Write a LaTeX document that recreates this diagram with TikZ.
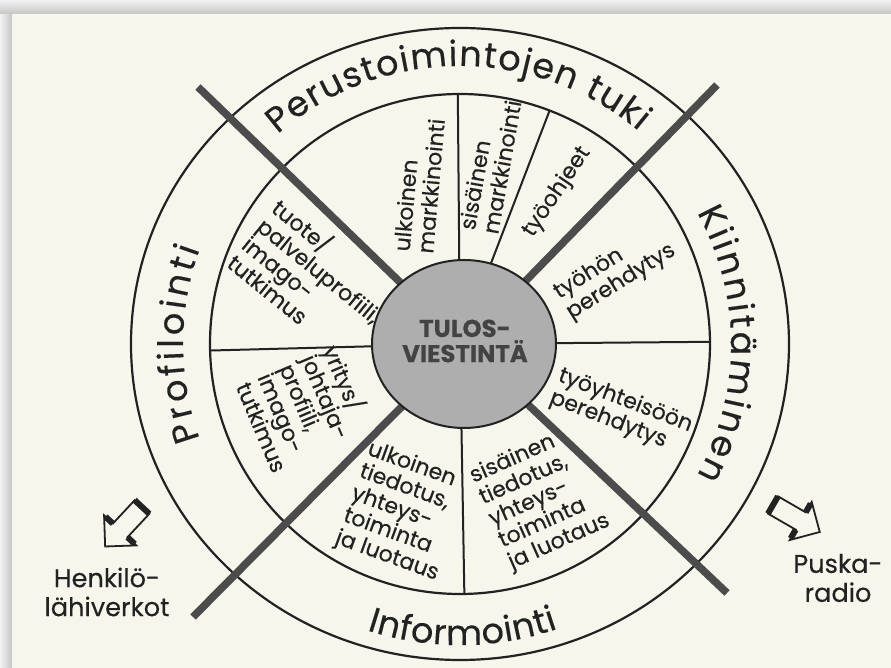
\documentclass[tikz,border=0pt]{standalone}
\usepackage{fontspec}
\setmainfont{Poppins}[FakeBold=0.35]
\usetikzlibrary{positioning,decorations.text}
\definecolor{paper}{RGB}{246,246,236}
\definecolor{ink}{RGB}{34,34,34}
\definecolor{hubgray}{RGB}{174,174,174}
\definecolor{spokegray}{RGB}{76,76,76}
\newcommand\ringfont{\fontsize{17.5}{20}\selectfont\color{ink}}
\tikzset{
  ring/.style={decorate,decoration={text along path,text align={fit to path},text={|\ringfont|#1}}},
  sector/.style={text=ink,align=left,inner sep=0pt,font=\fontsize{11}{11.8}\selectfont},
  hub/.style={text=ink!85,align=center,inner sep=0pt,font=\fontsize{12.2}{12.6}\selectfont\bfseries},
  side note/.style={text=ink,align=center,inner sep=0pt,font=\fontsize{12.8}{14.5}\selectfont},
  rim/.style={ink,line width=1.1pt},
  divider/.style={ink,line width=1pt},
  spoke/.style={spokegray,line width=3.8pt},
  hollow arrow/.pic={
    \draw[ink,line width=0.9pt,line join=miter,fill=paper]
      (0,-10) -- (32,-10) -- (32,-22) -- (54,0) -- (32,22) -- (32,10) -- (0,10) -- cycle;
    \draw[ink,line width=3pt] (0,-10) -- (0,10) (32,10) -- (32,20) (32,-10) -- (32,-20);
  }
}

\begin{document}
\begin{tikzpicture}[x=0.5pt,y=0.5pt]
  \useasboundingbox (-460,-324) rectangle (431,344);
  \fill[paper] (-460,-324) rectangle (431,344);
  \shade[left color=gray!10,right color=gray!45] (-460,-324) rectangle (-448,344);
  \shade[top color=gray!10,bottom color=gray!45] (-460,344) rectangle (431,330);

  \coordinate (O) at (0,0);
  \coordinate (hubc) at (4,0);
  \coordinate (ul) at (-262,257);
  \coordinate (ur) at (257,259);
  \coordinate (ll) at (-267,-273);
  \coordinate (lr) at (267,-249);

  % rings and thin dividers
  \draw[rim] (O) ellipse [x radius=329,y radius=316];
  \draw[rim] (O) circle [radius=250];
  \foreach \a in {90.5,69,0.5,271,181.5}
    \draw[divider] (O) -- (\a:250);

  % the four thick spokes
  \foreach \e in {ul,ur,ll,lr}
    \draw[spoke] (hubc) -- (\e);

  % hub
  \draw[ink,line width=1pt,fill=hubgray] (hubc) ellipse [x radius=92,y radius=84];
  \node[hub] (title) at (5,3) {TULOS-\\VIESTINTÄ};

  % ring labels
  \path[ring=Perustoimintojen tuki] (131:278) arc [start angle=131,end angle=50,radius=278];
  \path[ring=Profilointi] (200:277) arc [start angle=200,end angle=160,radius=277];
  \path[ring=Kiinnitäminen] (29:271) arc [start angle=29,end angle=-29,radius=271];
  \path[ring=Informointi] (252:301) arc [start angle=252,end angle=289,radius=301];

  % sector labels
  \node[sector,rotate=85] (ulkmark) at (-41,159) {ulkoinen\\markkinointi};
  \node[sector,rotate=80] (sismark) at (30,179) {sisäinen\\markkinointi};
  \node[sector,rotate=56] (ohjeet) at (97,152) {työohjeet};
  \node[sector,rotate=32] (tyohon) at (155,72) {työhön\\perehdytys};
  \node[sector,rotate=-21] (yhteiso) at (161,-68) {työyhteisöön\\perehdytys};
  \node[sector,rotate=24] (sistied) at (80,-155) {sisäinen\\tiedotus,\\yhteys-\\toiminta\\ja luotaus};
  \node[sector,rotate=-20] (ulktied) at (-57,-168) {ulkoinen\\tiedotus,\\yhteys-\\toiminta\\ja luotaus};
  \node[sector,rotate=-67] (yritys) at (-153,-64) {yritys/\\johtaja-\\profiili,\\imago-\\tutkimus};
  \node[sector,rotate=-39] (tuote) at (-147,66) {tuote/\\palveluprofiili,\\imago-\\tutkimus};

  % outside arrows and notes
  \pic[rotate=227] (henkarrow) at (-318,-163) {hollow arrow};
  \pic[rotate=-30] (puskaarrow) at (313,-161) {hollow arrow};
  \node[side note] (henk) at (-353,-248) {Henkilö-\\lähiverkot};
  \node[side note] (puska) at (378,-234) {Puska-\\radio};
\end{tikzpicture}
\end{document}
